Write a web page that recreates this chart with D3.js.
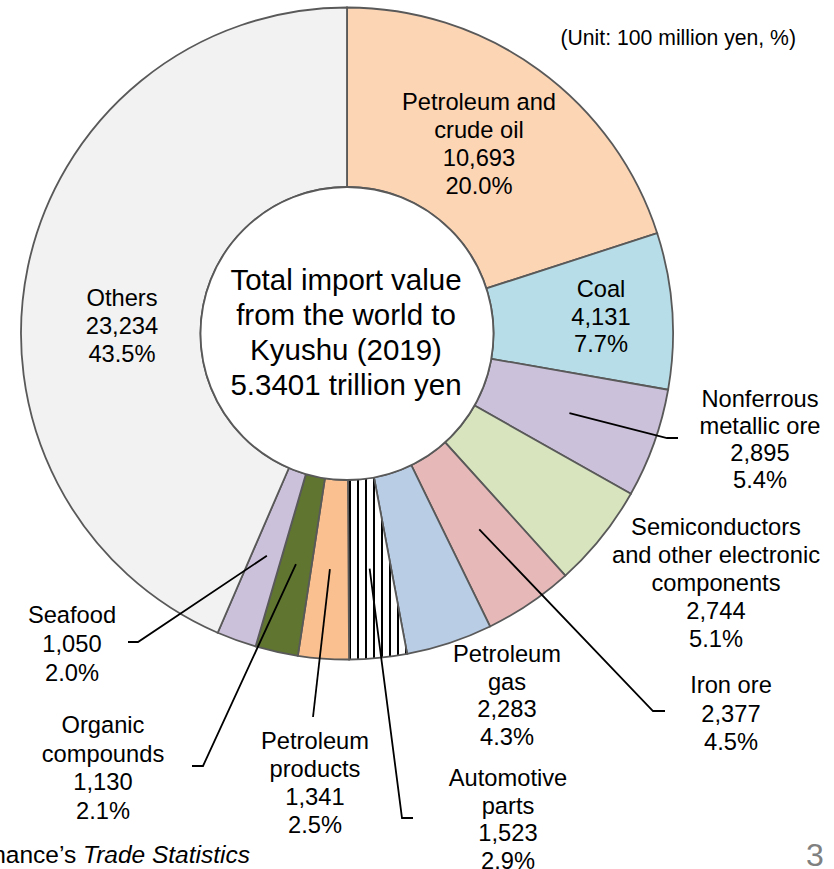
<!DOCTYPE html>
<html>
<head>
<meta charset="utf-8">
<script src="https://cdn.jsdelivr.net/npm/d3@7"></script>
<style>
  html, body { margin: 0; padding: 0; background: #fff; }
  svg { display: block; font-family: "Liberation Sans", Arial, sans-serif; }
</style>
</head>
<body>
<div id="chart"></div>
<script>
// Data (unit: 100 million yen)
var categories = ["Petroleum and crude oil", "Coal", "Nonferrous metallic ore",
  "Semiconductors and other electronic components", "Iron ore", "Petroleum gas",
  "Automotive parts", "Petroleum products", "Organic compounds", "Seafood", "Others"];
var values = [10693, 4131, 2895, 2744, 2377, 2283, 1523, 1341, 1130, 1050, 23234];
var percents = ["20.0%", "7.7%", "5.4%", "5.1%", "4.5%", "4.3%", "2.9%", "2.5%", "2.1%", "2.0%", "43.5%"];
var valueLabels = ["10,693", "4,131", "2,895", "2,744", "2,377", "2,283", "1,523", "1,341", "1,130", "1,050", "23,234"];
var nameLines = [
  ["Petroleum and", "crude oil"], ["Coal"], ["Nonferrous", "metallic ore"],
  ["Semiconductors", "and other electronic", "components"], ["Iron ore"], ["Petroleum", "gas"],
  ["Automotive", "parts"], ["Petroleum", "products"], ["Organic", "compounds"], ["Seafood"], ["Others"]
];
var centerLines = ["Total import value", "from the world to", "Kyushu (2019)", "5.3401 trillion yen"];

// Styling / layout
var colors = ["#fcd5b5", "#b7dee8", "#ccc1da", "#d7e4bd", "#e6b9b8", "#b9cde5",
  "url(#stripes)", "#fac090", "#5f7530", "#ccc1da", "#f2f2f2"];

// label position: x (center), y (first baseline), lh (line height)
var labelPos = [
  {x: 479, y: 110, lh: 28},
  {x: 601, y: 297, lh: 27.5},
  {x: 760, y: 407, lh: 27},
  {x: 716, y: 535, lh: 28},
  {x: 731, y: 693, lh: 28.5},
  {x: 507, y: 662, lh: 27.7},
  {x: 508, y: 786, lh: 27.5},
  {x: 315, y: 749, lh: 28},
  {x: 103, y: 733, lh: 28.5},
  {x: 72, y: 623, lh: 29},
  {x: 122, y: 306, lh: 28}
];

// leader lines: extra points after the slice centroid (absolute coords)
var leaders = {
  2: [[667, 438], [678, 438]],
  4: [[653, 711], [665, 711]],
  6: [[402, 818], [413, 818]],
  7: [[313, 717]],
  8: [[203, 766], [192, 766]],
  9: [[138, 642], [128, 642]]
};

var width = 834,
    height = 869,
    cx = 347,
    cy = 333.5,
    outerR = 326,
    innerR = 146.5;

var svg = d3.select("#chart").append("svg")
    .attr("width", width)
    .attr("height", height);

var defs = svg.append("defs");
var pat = defs.append("pattern")
    .attr("id", "stripes")
    .attr("patternUnits", "userSpaceOnUse")
    .attr("width", 8)
    .attr("height", 8);
pat.append("rect").attr("width", 8).attr("height", 8).attr("fill", "#fff");
pat.append("rect").attr("x", 2).attr("width", 2).attr("height", 8).attr("fill", "#000");

var pie = d3.pie().sort(null).value(function(d) { return d; });
var arc = d3.arc().innerRadius(innerR).outerRadius(outerR);
var arcs = pie(values);

var g = svg.append("g").attr("transform", "translate(" + cx + "," + cy + ")");

g.selectAll("path.slice")
    .data(arcs)
  .enter().append("path")
    .attr("class", "slice")
    .attr("d", arc)
    .attr("fill", function(d, i) { return colors[i]; })
    .attr("stroke", "#595959")
    .attr("stroke-width", 1.8);

// center circle outline
g.append("circle")
    .attr("r", innerR)
    .attr("fill", "#fff")
    .attr("stroke", "#595959")
    .attr("stroke-width", 1.8);

// leader lines
var line = d3.line();
arcs.forEach(function(d, i) {
  if (!leaders[i]) return;
  var c = arc.centroid(d);
  var pts = [[c[0] + cx, c[1] + cy]].concat(leaders[i]);
  svg.append("path")
      .attr("d", line(pts))
      .attr("fill", "none")
      .attr("stroke", "#000")
      .attr("stroke-width", 1.8);
});

// slice labels
categories.forEach(function(name, i) {
  var p = labelPos[i];
  var lines = nameLines[i].concat([valueLabels[i], percents[i]]);
  var t = svg.append("text")
      .attr("text-anchor", "middle")
      .attr("font-size", 23.7)
      .attr("fill", "#000");
  lines.forEach(function(s, k) {
    t.append("tspan")
        .attr("x", p.x)
        .attr("y", p.y + k * p.lh)
        .text(s);
  });
});

// center text
var ct = svg.append("text")
    .attr("text-anchor", "middle")
    .attr("font-size", 29.5)
    .attr("fill", "#000");
centerLines.forEach(function(s, k) {
  ct.append("tspan")
      .attr("x", cx - 1)
      .attr("y", 290 + k * 35)
      .text(s);
});

// unit note
svg.append("text")
    .attr("x", 796)
    .attr("y", 45)
    .attr("text-anchor", "end")
    .attr("font-size", 21.2)
    .text("(Unit: 100 million yen, %)");

// source (clipped at left edge as in the original slide)
var src = svg.append("text")
    .attr("x", 250)
    .attr("y", 863)
    .attr("text-anchor", "end")
    .attr("font-size", 24.5);
src.append("tspan").text("Source: Ministry of Finance\u2019s ");
src.append("tspan").attr("font-style", "italic").text("Trade Statistics");

// page number
svg.append("text")
    .attr("x", 815)
    .attr("y", 866)
    .attr("text-anchor", "middle")
    .attr("font-size", 32)
    .attr("fill", "#808080")
    .text("3");
</script>
</body>
</html>
